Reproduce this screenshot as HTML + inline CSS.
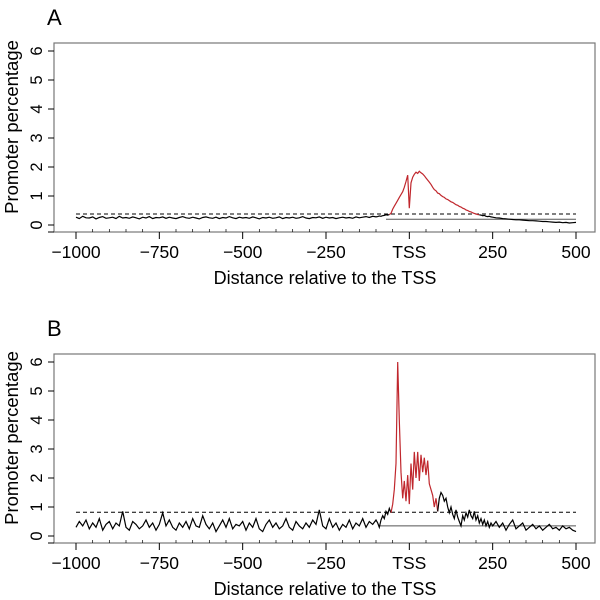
<!DOCTYPE html>
<html><head><meta charset="utf-8"><style>
body{margin:0;background:#fff}
svg{display:block;font-family:"Liberation Sans",sans-serif}
</style></head><body>
<svg id="c" width="600" height="600" viewBox="0 0 600 600"></svg>
<script>
// ---- data ----
const xTicks=[-1000,-750,-500,-250,0,250,500];
const xTickLabels=["\u22121000","\u2212750","\u2212500","\u2212250","TSS","250","500"];
const yTicks=[0,1,2,3,4,5,6];
const bgA=[0.27,0.22,0.30,0.25,0.24,0.28,0.21,0.26,0.29,0.23,0.25,0.27,0.22,0.30,0.24,0.26,0.23,0.28,0.25,0.21,0.27,0.24,0.29,0.22,0.26,0.25,0.28,0.23,0.27,0.24,0.22,0.26,0.29,0.25,0.23,0.27,0.24,0.21,0.26,0.28,0.25,0.23,0.27,0.22,0.26,0.24,0.29,0.25,0.22,0.27,0.24,0.26,0.23,0.28,0.25,0.21,0.26,0.24,0.27,0.23,0.25,0.28,0.22,0.26,0.24,0.27,0.23,0.25,0.29,0.24,0.22,0.26,0.25,0.28,0.23,0.27,0.24,0.26,0.22,0.25,0.27,0.24,0.26,0.23,0.28,0.25,0.27,0.29,0.26,0.30,0.28];
const midA=[0.29,0.31,0.30,0.32,0.33,0.35,0.34,0.36,0.40,0.55,0.65,0.75,0.85,0.95,1.05,1.15,1.30,1.50,1.72,0.58,1.45,1.65,1.75,1.82,1.78,1.85,1.80,1.76,1.70,1.62,1.55,1.48,1.40,1.30,1.22,1.18,1.10,1.08,1.02,0.98,0.95,0.90,0.88,0.84,0.80,0.78,0.74,0.70,0.68,0.64,0.62,0.58,0.56,0.52,0.50,0.47,0.45,0.42,0.40,0.38,0.36,0.35,0.34,0.32,0.33,0.30,0.29,0.30,0.28,0.27];
const tailA=[0.25,0.24,0.22,0.21,0.20,0.19,0.18,0.18,0.17,0.16,0.15,0.15,0.14,0.13,0.12,0.12,0.11,0.10,0.09,0.10,0.08,0.09,0.07,0.08,0.09];
const bgB=[0.30,0.50,0.35,0.55,0.25,0.45,0.30,0.60,0.20,0.40,0.50,0.25,0.45,0.35,0.85,0.30,0.20,0.50,0.40,0.25,0.35,0.55,0.30,0.45,0.20,0.40,0.80,0.35,0.55,0.30,0.20,0.45,0.30,0.50,0.25,0.60,0.35,0.30,0.70,0.40,0.25,0.45,0.15,0.35,0.55,0.30,0.60,0.25,0.40,0.35,0.50,0.20,0.45,0.30,0.60,0.25,0.15,0.40,0.55,0.30,0.45,0.25,0.35,0.60,0.30,0.20,0.50,0.35,0.25,0.45,0.30,0.55,0.40,0.90,0.35,0.25,0.60,0.30,0.45,0.20,0.40,0.30,0.55,0.25,0.45,0.35,0.60,0.30,0.50,0.40,0.55];
const midB=[0.45,0.30,0.55,0.70,0.60,0.85,0.75,0.95,0.80,1.1,1.6,2.5,6.0,4.0,2.2,1.3,1.9,1.2,2.1,1.1,2.5,1.6,2.9,2.0,2.9,1.9,2.8,2.2,2.7,2.1,2.6,1.8,1.6,1.4,1.0,1.3,0.85,1.3,1.5,1.4,1.2,1.3,1.0,0.8,1.0,0.75,0.6,0.9,0.65,0.5,0.35,0.7,0.55,0.8,0.65,0.9,0.7,0.6,0.85,0.55,0.7,0.45,0.6,0.4,0.55,0.35,0.5,0.3,0.45,0.35];
const tailB=[0.5,0.3,0.45,0.2,0.4,0.55,0.25,0.35,0.45,0.2,0.3,0.4,0.25,0.35,0.2,0.3,0.4,0.25,0.3,0.2,0.35,0.25,0.3,0.2,0.15];
const redRangeA=[-55,210], redRangeB=[-50,85];
const dashA=0.38, solidA=0.2, solidStartA=-70;
const dashB=0.82, solidB=0.35, solidStartB=-88;

const NS="http://www.w3.org/2000/svg", svg=document.getElementById('c');
function mk(t,a,p){const e=document.createElementNS(NS,t);for(const k in a)e.setAttribute(k,a[k]);(p||svg).appendChild(e);return e;}
function positions(){const p=[];for(let x=-1000;x<=-100;x+=10)p.push(x);for(let x=-95;x<=250;x+=5)p.push(x);for(let x=260;x<=500;x+=10)p.push(x);return p;}

function panel(letter,top,bg,mid,tail,red,dash,solid,solidStart){
  const y0=top+182, sx=v=>76+(v+1000)/3, sy=v=>y0-v*29;
  const g=mk('g',{});
  
  
  const L=mk('text',{x:47,y:top-18,'font-size':22},g);L.textContent=letter;
  
  const box=mk('rect',{x:54,y:top,width:541,height:189,fill:'none',stroke:'#777','stroke-width':1.2},g);
  
  mk('line',{x1:48,y1:top+189,x2:54,y2:top+189,stroke:'#000'},g);
  xTicks.forEach((t,i)=>{
    const x=sx(t);
    mk('line',{x1:x,y1:top+189,x2:x,y2:top+196,stroke:'#000'},g);
    const tx=mk('text',{x:x,y:top+215,'font-size':17.5,'text-anchor':'middle'},g);tx.textContent=xTickLabels[i];
    
  });
  for(let t=-950;t<500;t+=50){if(t%250)mk('line',{x1:sx(t),y1:top+189,x2:sx(t),y2:top+186,stroke:'#000','stroke-width':0.7},g);}
  yTicks.forEach(t=>{
    const y=sy(t);
    mk('line',{x1:48,y1:y,x2:54,y2:y,stroke:'#000'},g);
    const ty=mk('text',{x:42,y:y,'font-size':16.5,'text-anchor':'middle',transform:`rotate(-90 42 ${y})`},g);ty.textContent=t;
    
  });
  const yt=mk('text',{x:18,y:top+84,'font-size':18.5,'text-anchor':'middle',transform:`rotate(-90 18 ${top+84})`},g);yt.textContent='Promoter percentage';
  
  const xt=mk('text',{x:325,y:top+241,'font-size':18,'text-anchor':'middle'},g);xt.textContent='Distance relative to the TSS';
  
  const dl=mk('line',{x1:sx(-1000),y1:sy(dash),x2:sx(500),y2:sy(dash),stroke:'#000','stroke-dasharray':'4,3'},g);
  
  const sl=mk('line',{x1:sx(solidStart),y1:sy(solid),x2:sx(500),y2:sy(solid),stroke:'#555'},g);
  
  const pos=positions(), vals=bg.concat(mid,tail);
  let segs=[],cur=null;
  for(let i=0;i<pos.length;i++){
    const r=pos[i]>=red[0]&&pos[i]<=red[1];
    if(!cur||cur.r!==r){const c={r,pts:[]};if(cur)c.pts.push(cur.pts[cur.pts.length-1]);segs.push(c);cur=c;}
    cur.pts.push(sx(pos[i]).toFixed(1)+','+sy(vals[i]).toFixed(1));
  }
  segs.forEach(s=>{
    const p=mk('polyline',{points:s.pts.join(' '),fill:'none',stroke:s.r?'#c0272d':'#000','stroke-width':1.2},g);
    
    
  });
}
panel('A',43,bgA,midA,tailA,redRangeA,dashA,solidA,solidStartA);
panel('B',354,bgB,midB,tailB,redRangeB,dashB,solidB,solidStartB);
</script>
</body></html>
